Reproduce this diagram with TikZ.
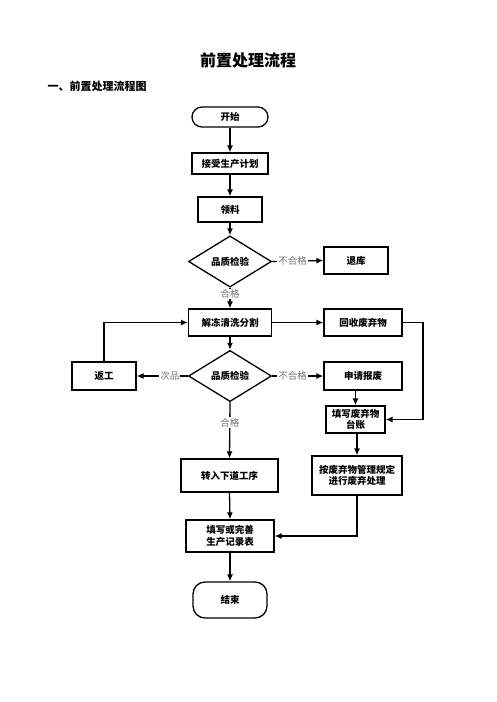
\documentclass[tikz,border=0pt]{standalone}
\usepackage{fontspec}
\newfontfamily\cjk{Noto Sans CJK SC}
\usetikzlibrary{shapes.geometric,arrows.meta}

\tikzset{
  box/.style={draw, line width=1.3pt, align=center, inner sep=1pt,
    font=\cjk\bfseries\fontsize{9.5}{11.5}\selectfont},
  term/.style={box, rounded corners=10pt},
  check/.style={box, diamond, minimum width=83pt, minimum height=38pt},
  arr/.style={line width=1.3pt, -{Latex[length=7pt,width=6pt]}},
  lab/.style={fill=white, inner sep=1pt, text=black!55,
    font=\cjk\fontsize{9.5}{11.5}\selectfont}
}

\begin{document}
\begin{tikzpicture}[x=1pt,y=-1pt]
    \useasboundingbox (0,0) rectangle (496,702);

    \node[font=\cjk\bfseries\fontsize{16}{18}\selectfont] (title) at (248,60) {前置处理流程};
    \node[anchor=west, font=\cjk\bfseries\fontsize{11}{13}\selectfont] (sub) at (44,86) {一、前置处理流程图};

    % main column
    \node[term, minimum width=76pt, minimum height=20pt] (start) at (230,117) {开始};
    \node[box, minimum width=76pt, minimum height=21pt] (plan) at (230,163.5) {接受生产计划};
    \node[box, minimum width=64pt, minimum height=25pt] (ling) at (230,209.5) {领料};
    \node[check] (qc1) at (230,261.5) {品质检验};
    \node[box, minimum width=64pt, minimum height=27pt] (tk) at (356,260.5) {退库};
    \node[box, minimum width=83pt, minimum height=27pt] (jd) at (230,322.5) {解冻清洗分割};
    \node[box, minimum width=78pt, minimum height=27pt] (hs) at (363,322.5) {回收废弃物};
    \node[check] (qc2) at (230,376) {品质检验};
    \node[box, minimum width=64pt, minimum height=28pt] (fg) at (104,376) {返工};
    \node[box, minimum width=78pt, minimum height=28pt] (sq) at (363,376) {申请报废};
    \node[box, minimum width=59pt, minimum height=27pt] (tz) at (355.5,419.5) {填写废弃物\\台账};
    \node[box, minimum width=97pt, minimum height=33pt] (zr) at (229.5,475.5) {转入下道工序};
    \node[box, minimum width=90pt, minimum height=39pt] (fq) at (357,475.5) {按废弃物管理规定\\进行废弃处理};
    \node[box, minimum width=88pt, minimum height=32pt] (jl) at (230,536) {填写或完善\\生产记录表};
    \node[term, rounded corners=12pt, minimum width=74pt, minimum height=36pt] (end) at (230,600) {结束};

    \coordinate (hsr) at (423,322.5);

    % connectors
    \draw[arr] (start) -- (plan);
    \draw[arr] (plan) -- (ling);
    \draw[arr] (ling) -- (qc1);
    \draw[arr] (qc1.east) -- node[lab, pos=0.4] {不合格} (tk.west);
    \draw[arr] (qc1.south) -- node[lab, pos=0.3] {合格} (jd.north);
    \draw[arr] (jd.east) -- (hs.west);
    \draw[arr] (jd.south) -- (qc2.north);
    \draw[arr] (qc2.west) -- node[lab, pos=0.35] {次品} (fg.east);
    \draw[arr] (fg.north) |- (jd.west);
    \draw[arr] (qc2.east) -- node[lab, pos=0.4] {不合格} (sq.west);
    \draw[arr] (hs.east) -- (hsr) |- (tz.east);
    \draw[arr] (sq.south -| tz.north) -- (tz.north);
    \draw[arr] (qc2.south) -- node[lab, pos=0.36] {合格} (zr.north);
    \draw[arr] (tz.south -| fq.north) -- (fq.north);
    \draw[arr] (zr.south) -- (jl.north);
    \draw[arr] (fq.south) |- (jl.east);
    \draw[arr] (jl.south) -- (end.north);

\end{tikzpicture}
\end{document}
